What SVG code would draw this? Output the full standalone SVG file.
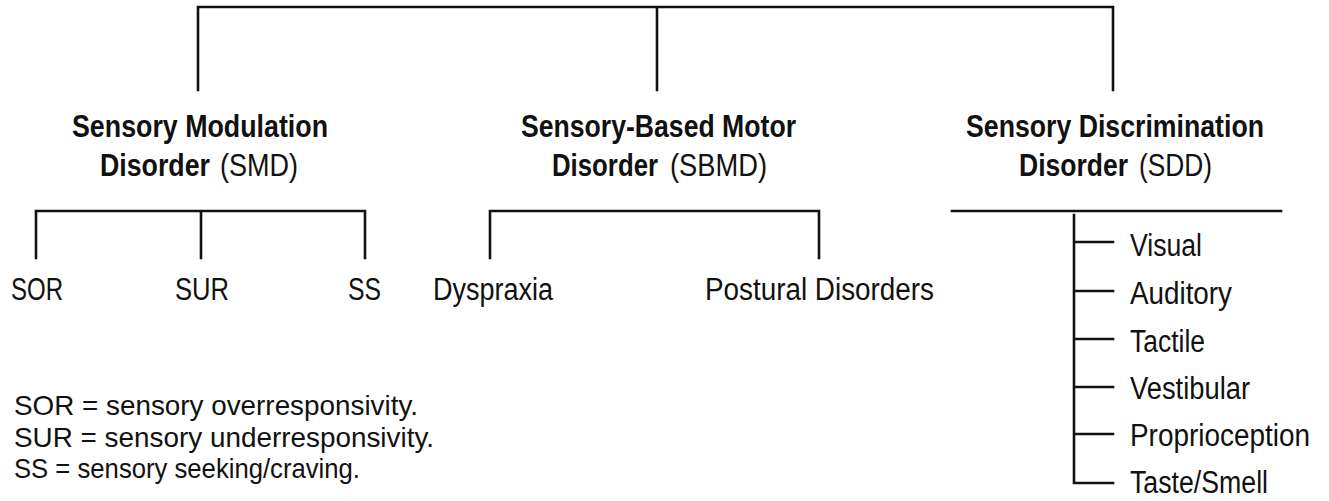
<svg xmlns="http://www.w3.org/2000/svg" width="1329" height="501" viewBox="0 0 1329 501">
<style>
.ln{stroke:#111;stroke-width:2.6;fill:none;stroke-linecap:square}
text{font-family:"Liberation Sans",Arial,sans-serif;fill:#111;font-size:31px}
.b{font-weight:bold}
.lg{font-size:28px}
</style>
<rect width="1329" height="501" fill="#fff"/>
<g id="connectors">
<path class="ln" d="M198 90V7H1113V90M657 7V90"/>
<path class="ln" d="M36 258V211H365V258M201 211V258"/>
<path class="ln" d="M490 258V211H819V258"/>
<path class="ln" d="M952 211H1281"/>
<path class="ln" d="M1074 215V483H1113M1074 242H1113M1074 291H1113M1074 339H1113M1074 387H1113M1074 434H1113"/>
</g>
<g id="smd">
<text class="b" x="72" y="137" textLength="256" lengthAdjust="spacingAndGlyphs">Sensory Modulation</text>
<text class="b" x="100" y="176" textLength="110" lengthAdjust="spacingAndGlyphs">Disorder</text>
<text x="220" y="176" textLength="78" lengthAdjust="spacingAndGlyphs">(SMD)</text>
</g>
<g id="sbmd">
<text class="b" x="552" y="176" textLength="106" lengthAdjust="spacingAndGlyphs">Disorder</text>
<text class="b" x="521" y="137" textLength="275" lengthAdjust="spacingAndGlyphs">Sensory-Based Motor</text>
<text x="670" y="176" textLength="97" lengthAdjust="spacingAndGlyphs">(SBMD)</text>
</g>
<g id="sdd">
<text class="b" x="966" y="137" textLength="298" lengthAdjust="spacingAndGlyphs">Sensory Discrimination</text>
<text class="b" x="1019" y="176" textLength="109" lengthAdjust="spacingAndGlyphs">Disorder</text>
<text x="1139" y="176" textLength="73" lengthAdjust="spacingAndGlyphs">(SDD)</text>
</g>
<g id="sor"><text x="11" y="300" textLength="52" lengthAdjust="spacingAndGlyphs">SOR</text></g>
<g id="sur"><text x="175" y="300" textLength="54" lengthAdjust="spacingAndGlyphs">SUR</text></g>
<g id="ss"><text x="348" y="300" textLength="33" lengthAdjust="spacingAndGlyphs">SS</text></g>
<g id="dyspraxia"><text x="433" y="300" textLength="120" lengthAdjust="spacingAndGlyphs">Dyspraxia</text></g>
<g id="postural"><text x="705" y="300" textLength="229" lengthAdjust="spacingAndGlyphs">Postural Disorders</text></g>
<g id="visual"><text x="1130" y="256" textLength="72" lengthAdjust="spacingAndGlyphs">Visual</text></g>
<g id="auditory"><text x="1130" y="304" textLength="102" lengthAdjust="spacingAndGlyphs">Auditory</text></g>
<g id="tactile"><text x="1130" y="352" textLength="75" lengthAdjust="spacingAndGlyphs">Tactile</text></g>
<g id="vestibular"><text x="1130" y="399" textLength="120" lengthAdjust="spacingAndGlyphs">Vestibular</text></g>
<g id="proprioception"><text x="1130" y="446" textLength="180" lengthAdjust="spacingAndGlyphs">Proprioception</text></g>
<g id="taste"><text x="1130" y="493" textLength="138" lengthAdjust="spacingAndGlyphs">Taste/Smell</text></g>
<g id="legend">
<text class="lg" x="14" y="415" textLength="404" lengthAdjust="spacingAndGlyphs">SOR = sensory overresponsivity.</text>
<text class="lg" x="14" y="447" textLength="420" lengthAdjust="spacingAndGlyphs">SUR = sensory underresponsivity.</text>
<text class="lg" x="14" y="478" textLength="346" lengthAdjust="spacingAndGlyphs">SS = sensory seeking/craving.</text>
</g>
</svg>
